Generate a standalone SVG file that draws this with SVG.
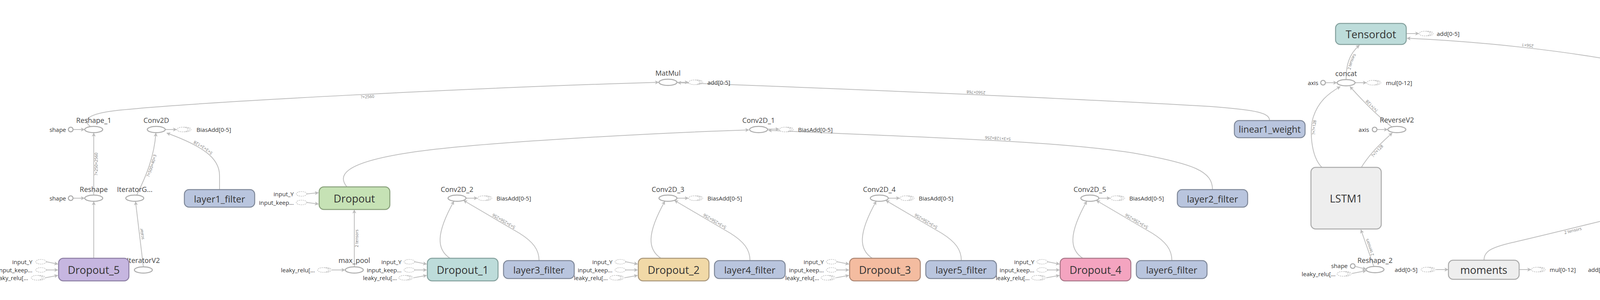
<svg xmlns="http://www.w3.org/2000/svg" width="6219" height="769" viewBox="0 0 6219 769">
<style>
text{font-family:"Open Sans","Noto Sans","Liberation Sans",sans-serif}
.op{fill:#fff;stroke:#aaa;stroke-width:2.5}
.cst{fill:#fff;stroke:#aaa;stroke-width:2.5}
.dsh{fill:#fff;stroke:#bbb;stroke-width:1.4;stroke-dasharray:3 2}
.dsa{fill:none;stroke:#bbb;stroke-width:1.4;stroke-dasharray:3 2}
.e{fill:none;stroke:#bdbdbd;stroke-width:2;marker-end:url(#ah)}
.ed{fill:none;stroke:#bdbdbd;stroke-width:2;stroke-dasharray:7 5;marker-end:url(#ah)}
.t18{font-size:18px;fill:#444;text-anchor:middle;dominant-baseline:central}
.t15{font-size:15px;fill:#333;dominant-baseline:central}
.r{text-anchor:end}
.bl{font-size:27px;fill:#333;text-anchor:middle;dominant-baseline:central}
.bs{font-size:24px}
.el{font-size:10.5px;fill:#777}
.purple{fill:#c6b6e0;stroke:#8c7ea3;stroke-width:2.5}
.green{fill:#c6e2b5;stroke:#89a17b;stroke-width:2.5}
.teal{fill:#bddcda;stroke:#84a09d;stroke-width:2.5}
.tan{fill:#f1d9a7;stroke:#a8967a;stroke-width:2.5}
.salmon{fill:#f4bca0;stroke:#ac8673;stroke-width:2.5}
.pink{fill:#f4a4c0;stroke:#a87788;stroke-width:2.5}
.var{fill:#b9c5de;stroke:#7f8899;stroke-width:2.5}
.gray{fill:#eee;stroke:#aaa;stroke-width:2.5}
</style>
<defs>
<marker id="ah" viewBox="0 0 10 10" refX="9" refY="5" markerUnits="userSpaceOnUse" markerWidth="12" markerHeight="10" orient="auto">
<path d="M0,0 L10,5 L0,10 L2.5,5 z" fill="#bbb"/>
</marker>
<g id="ser">
<path class="dsa" d="M5,-6 A14,6 0 0 1 5,6"/>
<path class="dsa" d="M1,-6 A14,6 0 0 1 1,6"/>
<ellipse class="dsh" cx="-3" cy="0" rx="14" ry="6"/>
</g>
<g id="sgl">
<ellipse class="dsh" cx="0" cy="0" rx="13.5" ry="6"/>
</g>
</defs>
<rect width="6219" height="769" fill="#fff"/>

<g id="connectors">
<path id="p1" class="e" d="M232,325 C210,308 222,292 300,283 C500,262 1200,225 1686,211"/>
<path id="p2" class="e" d="M240,500 L240,341"/>
<path class="e" d="M240,662 L240,517"/>
<path class="e" d="M188,332 L216,332"/>
<path class="e" d="M188,508 L216,508"/>
<path id="p3" class="e" d="M367,684 L347,517"/>
<path id="p4" class="e" d="M350,500 C375,450 395,400 399,341"/>
<path id="p5" class="e" d="M562,486 L562,450 C562,405 520,375 427,341"/>
<path class="e" d="M423,332 L452,332"/>
<path class="e" d="M119,671 L148,677"/>
<path class="e" d="M119,692 L148,692"/>
<path class="e" d="M116,712 L148,706"/>
<path class="e" d="M786,497 L815,494"/>
<path class="e" d="M786,519 L815,523"/>
<path id="p6" class="e" d="M907,684 L907,538"/>
<path class="e" d="M850,692 L883,692"/>
<path class="e" d="M888,479 C866,452 872,418 1050,391 C1228,364 1700,340 1917,333"/>
<path class="e" d="M1062,671 L1092,677"/><path class="e" d="M1062,692 L1092,692"/><path class="e" d="M1059,712 L1092,706"/>
<path class="e" d="M1152,662 C1118,640 1115,600 1162,516"/>
<path id="p7" class="e" d="M1380,668 C1380,640 1365,620 1330,598 L1187,514"/>
<path class="e" d="M1193,508 L1222,508"/>
<path class="e" d="M1602,671 L1632,677"/><path class="e" d="M1602,692 L1632,692"/><path class="e" d="M1599,712 L1632,706"/>
<path class="e" d="M1692,662 C1658,640 1655,600 1702,516"/>
<path id="p8" class="e" d="M1920,668 C1920,640 1905,620 1870,598 L1727,514"/>
<path class="e" d="M1733,508 L1762,508"/>
<path class="e" d="M2143,671 L2173,677"/><path class="e" d="M2143,692 L2173,692"/><path class="e" d="M2140,712 L2173,706"/>
<path class="e" d="M2233,662 C2199,640 2196,600 2243,516"/>
<path id="p9" class="e" d="M2461,668 C2461,640 2446,620 2411,598 L2268,514"/>
<path class="e" d="M2274,508 L2303,508"/>
<path class="e" d="M2682,671 L2712,677"/><path class="e" d="M2682,692 L2712,692"/><path class="e" d="M2679,712 L2712,706"/>
<path class="e" d="M2772,662 C2738,640 2735,600 2782,516"/>
<path id="p10" class="e" d="M3000,668 C3000,640 2985,620 2950,598 L2807,514"/>
<path class="e" d="M2813,508 L2842,508"/>
<path class="e" d="M1733,211 L1762,211"/>
<path id="p11" class="e" d="M3250,309 C3250,290 3220,282 3100,273 C2700,250 2100,225 1735,212"/>
<path class="e" d="M1965,331 L1994,331"/>
<path id="p12" class="e" d="M3104,486 C3104,440 3060,420 2900,392 C2700,360 2300,350 1967,334"/>
<path id="p13" class="e" d="M3446,203 C3446,170 3452,140 3480,116"/>
<path class="e" d="M3600,86 L3632,86"/>
<path id="p14" class="e" d="M4203,189 C4203,172 4185,165 4150,158 C4000,130 3800,107 3602,98"/>
<path class="e" d="M3394,212 L3422,212"/>
<path class="e" d="M3469,212 L3498,212"/>
<path class="e" d="M3526,332 L3552,332"/>
<path id="p15" class="e" d="M3563,325 C3530,300 3490,260 3456,222"/>
<path id="p16" class="e" d="M3384,429 C3355,400 3352,330 3362,300 C3375,260 3400,240 3431,222"/>
<path id="p17" class="e" d="M3485,429 C3500,405 3520,380 3564,341"/>
<path id="p18" class="e" d="M3517,683 L3484,589"/>
<path class="e" d="M3470,683 L3497,690"/>
<path class="e" d="M3461,701 L3497,694"/>
<path class="e" d="M3676,691 L3707,691"/>
<path class="e" d="M3889,691 L3919,691"/>
<path id="p19" class="e" d="M3799,667 C3799,645 3815,635 3870,622 C4000,592 4150,553 4269,527"/>
<path class="e" d="M4296,321 L4325,330"/>
<path class="e" d="M4296,340 L4325,334"/>
<path id="p20" class="e" d="M4361,484 L4361,341"/>
<path class="e" d="M4397,332 L4432,332"/>
<path class="e" d="M4237,509 L4269,509"/>
<path class="e" d="M4452,498 L4479,498"/>
<path class="e" d="M4452,518 L4479,518"/>
<path class="e" d="M4171,691 L4202,691"/>
<path class="e" d="M4381,691 L4411,691"/>
<path id="p21" class="ed" d="M4216,683 C4190,668 4176,650 4185,628 C4198,598 4260,562 4314,534"/>
<path id="p22" class="ed" d="M4432,683 L4371,535"/>
<path id="p23" class="e" d="M4563,668 C4563,640 4540,620 4480,590 L4409,534"/>
<path id="p24" class="e" d="M4759,668 C4759,640 4740,620 4680,605 L4447,534"/>
<path class="e" d="M4981,691 L5011,691"/>
<path id="p25" class="e" d="M5025,683 C4990,660 4975,630 4990,605 C5005,580 5030,560 5059,536"/>
<path id="p26" class="e" d="M5163,668 C5163,630 5140,580 5110,536"/>
<path id="p27" class="e" d="M5090,482 L5083,341"/>
<path id="p28" class="e" d="M5083,324 L5091,221"/>
<path class="e" d="M5040,212 L5068,212"/>
<path class="e" d="M5115,212 L5144,212"/>
<path id="p29" class="e" d="M5430,683 C5395,660 5375,630 5385,600 C5395,570 5405,545 5415,518"/>
<path class="e" d="M5390,683 L5418,690"/>
<path class="e" d="M5381,701 L5418,694"/>
<path id="p30" class="e" d="M5568,668 C5568,640 5550,615 5510,590 L5437,518"/>
<path class="e" d="M5444,509 L5473,509"/>
<path class="e" d="M5884,666 C5860,650 5850,625 5865,600 C5880,570 5900,545 5919,518"/>
<path id="p31" class="e" d="M6108,668 C6108,640 6090,620 6050,598 L5944,518"/>
<path class="e" d="M5950,509 L5980,509"/>
<path class="e" d="M5792,681 L5822,681"/>
<path class="e" d="M5788,702 L5822,702"/>
</g>

<g id="edge-labels">
<text class="el" dy="10"><textPath href="#p1" startOffset="50%" text-anchor="middle">?×2560</textPath></text>
<text class="el" dy="10"><textPath href="#p2" startOffset="50%" text-anchor="middle">?×250×2560</textPath></text>
<text class="el" dy="10"><textPath href="#p3" startOffset="50%" text-anchor="middle">scalar</textPath></text>
<text class="el" dy="10"><textPath href="#p4" startOffset="50%" text-anchor="middle">?×500×40×3</textPath></text>
<text class="el" dy="10"><textPath href="#p5" startOffset="55%" text-anchor="middle">5×3×3×128</textPath></text>
<text class="el" dy="10"><textPath href="#p6" startOffset="50%" text-anchor="middle">2 tensors</textPath></text>
<text class="el" dy="10"><textPath href="#p7" startOffset="55%" text-anchor="middle">5×3×256×256</textPath></text>
<text class="el" dy="10"><textPath href="#p8" startOffset="55%" text-anchor="middle">5×3×256×256</textPath></text>
<text class="el" dy="10"><textPath href="#p9" startOffset="55%" text-anchor="middle">5×3×256×256</textPath></text>
<text class="el" dy="10"><textPath href="#p10" startOffset="55%" text-anchor="middle">5×3×256×256</textPath></text>
<text class="el" dy="10"><textPath href="#p11" startOffset="50%" text-anchor="middle">2560×768</textPath></text>
<text class="el" dy="10"><textPath href="#p12" startOffset="50%" text-anchor="middle">5×3×128×256</textPath></text>
<text class="el" dy="10"><textPath href="#p13" startOffset="50%" text-anchor="middle">2 tensors</textPath></text>
<text class="el" dy="10"><textPath href="#p14" startOffset="50%" text-anchor="middle">256×1</textPath></text>
<text class="el" dy="10"><textPath href="#p15" startOffset="50%" text-anchor="middle">?×?×128</textPath></text>
<text class="el" dy="10"><textPath href="#p16" startOffset="45%" text-anchor="middle">?×?×128</textPath></text>
<text class="el" dy="10"><textPath href="#p17" startOffset="50%" text-anchor="middle">?×?×128</textPath></text>
<text class="el" dy="10"><textPath href="#p18" startOffset="50%" text-anchor="middle">2 tensors</textPath></text>
<text class="el" dy="10"><textPath href="#p19" startOffset="50%" text-anchor="middle">2 tensors</textPath></text>
<text class="el" dy="10"><textPath href="#p20" startOffset="50%" text-anchor="middle">?×768</textPath></text>
<text class="el" dy="10"><textPath href="#p21" startOffset="50%" text-anchor="middle">768</textPath></text>
<text class="el" dy="10"><textPath href="#p22" startOffset="50%" text-anchor="middle">768</textPath></text>
<text class="el" dy="10"><textPath href="#p23" startOffset="50%" text-anchor="middle">768</textPath></text>
<text class="el" dy="10"><textPath href="#p24" startOffset="50%" text-anchor="middle">768</textPath></text>
<text class="el" dy="10"><textPath href="#p25" startOffset="50%" text-anchor="middle">2 tensors</textPath></text>
<text class="el" dy="10"><textPath href="#p26" startOffset="50%" text-anchor="middle">1</textPath></text>
<text class="el" dy="10"><textPath href="#p27" startOffset="50%" text-anchor="middle">?×?</textPath></text>
<text class="el" dy="10"><textPath href="#p28" startOffset="50%" text-anchor="middle">?×?</textPath></text>
<text class="el" dy="10"><textPath href="#p29" startOffset="50%" text-anchor="middle">?×256</textPath></text>
<text class="el" dy="10"><textPath href="#p30" startOffset="50%" text-anchor="middle">256×64</textPath></text>
<text class="el" dy="10"><textPath href="#p31" startOffset="50%" text-anchor="middle">64×2</textPath></text>
</g>

<g id="node-Reshape_1">
<ellipse class="op" cx="240" cy="332" rx="23" ry="8"/>
<text class="t18" x="240" y="308">Reshape_1</text>
<circle class="cst" cx="181" cy="332" r="6"/>
<text class="t15 r" x="169" y="332">shape</text>
</g>
<g id="node-Conv2D">
<ellipse class="op" cx="400" cy="332" rx="23" ry="8"/>
<text class="t18" x="400" y="308">Conv2D</text>
<use href="#ser" x="470" y="332"/>
<text class="t15" x="503" y="332">BiasAdd[0-5]</text>
</g>
<g id="node-Reshape">
<ellipse class="op" cx="240" cy="508" rx="23" ry="8"/>
<text class="t18" x="240" y="485">Reshape</text>
<circle class="cst" cx="181" cy="508" r="6"/>
<text class="t15 r" x="169" y="508">shape</text>
</g>
<g id="node-IteratorG">
<ellipse class="op" cx="345" cy="508" rx="23" ry="8"/>
<text class="t18" x="345" y="485">IteratorG...</text>
</g>
<g id="node-IteratorV2">
<ellipse class="op" cx="367" cy="692" rx="23" ry="8"/>
<text class="t18" x="367" y="667">IteratorV2</text>
</g>
<g id="node-Dropout_5">
<rect class="purple" x="150" y="662" width="180" height="58" rx="12"/>
<text class="bl" x="240" y="691">Dropout_5</text>
<use href="#sgl" x="105" y="671"/>
<text class="t15 r" x="83" y="671">input_Y</text>
<use href="#sgl" x="105" y="692"/>
<text class="t15 r" x="83" y="692">input_keep...</text>
<use href="#ser" x="97" y="712"/>
<text class="t15 r" x="72" y="712">leaky_relu[...</text>
</g>
<g id="node-layer1_filter">
<rect class="var" x="472" y="486" width="180" height="45" rx="12"/>
<text class="bl bs" x="562" y="509">layer1_filter</text>
</g>
<g id="node-Dropout">
<rect class="green" x="817" y="479" width="181" height="58" rx="12"/>
<text class="bl" x="907" y="508">Dropout</text>
<use href="#sgl" x="772" y="497"/>
<text class="t15 r" x="752" y="497">input_Y</text>
<use href="#sgl" x="772" y="519"/>
<text class="t15 r" x="752" y="519">input_keep...</text>
</g>
<g id="node-max_pool">
<ellipse class="op" cx="907" cy="692" rx="23" ry="8"/>
<text class="t18" x="907" y="667">max_pool</text>
<use href="#ser" x="830" y="692"/>
<text class="t15 r" x="806" y="692">leaky_relu[...</text>
</g>

<g id="node-Dropout_1">
<rect class="teal" x="1094" y="662" width="181" height="58" rx="12"/>
<text class="bl" x="1184.5" y="691">Dropout_1</text>
<use href="#sgl" x="1048" y="671"/><text class="t15 r" x="1028" y="671">input_Y</text>
<use href="#sgl" x="1048" y="692"/><text class="t15 r" x="1028" y="692">input_keep...</text>
<use href="#ser" x="1038" y="712"/><text class="t15 r" x="1016" y="712">leaky_relu[...</text>
</g>
<g id="node-Conv2D_2">
<ellipse class="op" cx="1170" cy="508" rx="23" ry="8"/>
<text class="t18" x="1170" y="485">Conv2D_2</text>
<use href="#ser" x="1240" y="508"/><text class="t15" x="1271" y="508">BiasAdd[0-5]</text>
</g>
<g id="node-layer3_filter">
<rect class="var" x="1289" y="668" width="181" height="46" rx="12"/>
<text class="bl bs" x="1379.5" y="691">layer3_filter</text>
</g>

<g id="node-Dropout_2">
<rect class="tan" x="1634" y="662" width="181" height="58" rx="12"/>
<text class="bl" x="1724.5" y="691">Dropout_2</text>
<use href="#sgl" x="1588" y="671"/><text class="t15 r" x="1568" y="671">input_Y</text>
<use href="#sgl" x="1588" y="692"/><text class="t15 r" x="1568" y="692">input_keep...</text>
<use href="#ser" x="1578" y="712"/><text class="t15 r" x="1556" y="712">leaky_relu[...</text>
</g>
<g id="node-Conv2D_3">
<ellipse class="op" cx="1710" cy="508" rx="23" ry="8"/>
<text class="t18" x="1710" y="485">Conv2D_3</text>
<use href="#ser" x="1780" y="508"/><text class="t15" x="1811" y="508">BiasAdd[0-5]</text>
</g>
<g id="node-layer4_filter">
<rect class="var" x="1829" y="668" width="181" height="46" rx="12"/>
<text class="bl bs" x="1919.5" y="691">layer4_filter</text>
</g>

<g id="node-Dropout_3">
<rect class="salmon" x="2175" y="662" width="181" height="58" rx="12"/>
<text class="bl" x="2265.5" y="691">Dropout_3</text>
<use href="#sgl" x="2129" y="671"/><text class="t15 r" x="2109" y="671">input_Y</text>
<use href="#sgl" x="2129" y="692"/><text class="t15 r" x="2109" y="692">input_keep...</text>
<use href="#ser" x="2119" y="712"/><text class="t15 r" x="2097" y="712">leaky_relu[...</text>
</g>
<g id="node-Conv2D_4">
<ellipse class="op" cx="2251" cy="508" rx="23" ry="8"/>
<text class="t18" x="2251" y="485">Conv2D_4</text>
<use href="#ser" x="2321" y="508"/><text class="t15" x="2352" y="508">BiasAdd[0-5]</text>
</g>
<g id="node-layer5_filter">
<rect class="var" x="2370" y="668" width="181" height="46" rx="12"/>
<text class="bl bs" x="2460.5" y="691">layer5_filter</text>
</g>

<g id="node-Dropout_4">
<rect class="pink" x="2714" y="662" width="181" height="58" rx="12"/>
<text class="bl" x="2804.5" y="691">Dropout_4</text>
<use href="#sgl" x="2668" y="671"/><text class="t15 r" x="2648" y="671">input_Y</text>
<use href="#sgl" x="2668" y="692"/><text class="t15 r" x="2648" y="692">input_keep...</text>
<use href="#ser" x="2658" y="712"/><text class="t15 r" x="2636" y="712">leaky_relu[...</text>
</g>
<g id="node-Conv2D_5">
<ellipse class="op" cx="2790" cy="508" rx="23" ry="8"/>
<text class="t18" x="2790" y="485">Conv2D_5</text>
<use href="#ser" x="2860" y="508"/><text class="t15" x="2891" y="508">BiasAdd[0-5]</text>
</g>
<g id="node-layer6_filter">
<rect class="var" x="2909" y="668" width="181" height="46" rx="12"/>
<text class="bl bs" x="2999.5" y="691">layer6_filter</text>
</g>

<g id="node-MatMul">
<ellipse class="op" cx="1710" cy="211" rx="23" ry="8"/>
<text class="t18" x="1710" y="187">MatMul</text>
<use href="#ser" x="1780" y="211"/><text class="t15" x="1811" y="211">add[0-5]</text>
</g>
<g id="node-Conv2D_1">
<ellipse class="op" cx="1942" cy="332" rx="23" ry="8"/>
<text class="t18" x="1942" y="308">Conv2D_1</text>
<use href="#ser" x="2012" y="332"/><text class="t15" x="2043" y="332">BiasAdd[0-5]</text>
</g>
<g id="node-layer2_filter">
<rect class="var" x="3014" y="486" width="180" height="45" rx="12"/>
<text class="bl bs" x="3104" y="509">layer2_filter</text>
</g>
<g id="node-linear1_weight">
<rect class="var" x="3160" y="309" width="181" height="44" rx="12"/>
<text class="bl" style="font-size:23.5px" x="3250.5" y="331">linear1_weight</text>
</g>

<g id="node-Tensordot">
<rect class="teal" x="3419" y="60" width="181" height="54" rx="12"/>
<text class="bl" x="3509.5" y="87">Tensordot</text>
<use href="#ser" x="3650" y="86"/><text class="t15" x="3678" y="86">add[0-5]</text>
</g>
<g id="node-concat">
<ellipse class="op" cx="3446" cy="212" rx="23" ry="8"/>
<text class="t18" x="3446" y="188">concat</text>
<circle class="cst" cx="3387" cy="212" r="6"/>
<text class="t15 r" x="3375" y="212">axis</text>
<use href="#ser" x="3516" y="212"/><text class="t15" x="3548" y="212">mul[0-12]</text>
</g>
<g id="node-ReverseV2">
<ellipse class="op" cx="3576" cy="332" rx="23" ry="8"/>
<text class="t18" x="3576" y="307">ReverseV2</text>
<circle class="cst" cx="3519" cy="332" r="6"/>
<text class="t15 r" x="3505" y="332">axis</text>
</g>
<g id="node-LSTM1">
<rect class="gray" x="3356" y="429" width="180" height="158" rx="12"/>
<text class="bl" x="3446" y="508">LSTM1</text>
</g>
<g id="node-Reshape_2">
<ellipse class="op" cx="3520" cy="691" rx="23" ry="8"/>
<text class="t18" x="3520" y="667">Reshape_2</text>
<circle class="cst" cx="3463" cy="682" r="6"/>
<text class="t15 r" x="3450" y="681">shape</text>
<use href="#ser" x="3440" y="702"/><text class="t15 r" x="3419" y="702">leaky_relu[...</text>
</g>

<g id="node-moments">
<rect class="gray" x="3708" y="667" width="181" height="49" rx="12"/>
<text class="bl" x="3798.5" y="691">moments</text>
<use href="#ser" x="3655" y="691"/><text class="t15 r" x="3629" y="691">add[0-5]</text>
<use href="#ser" x="3937" y="691"/><text class="t15" x="3967" y="691">mul[0-12]</text>
</g>
<g id="node-Variable_4">
<rect class="var" x="4113" y="189" width="181" height="44" rx="12"/>
<text class="bl" x="4203.5" y="211">Variable_4</text>
</g>
<g id="node-Less">
<ellipse class="op" cx="4374" cy="332" rx="22" ry="8"/>
<ellipse class="op" cx="4361" cy="332" rx="22" ry="8"/>
<ellipse class="op" cx="4348" cy="332" rx="22" ry="8"/>
<text class="t18" style="font-size:24px" x="4361" y="302">Less[0-7]</text>
<use href="#ser" x="4275" y="320"/><text class="t15 r" x="4246" y="320">BiasAdd[0-5]</text>
<use href="#ser" x="4275" y="341"/><text class="t15 r" x="4246" y="341">add[0-5]</text>
<use href="#ser" x="4450" y="332"/><text class="t15" x="4476" y="332">leaky_relu[...</text>
</g>
<g id="node-batchnorm">
<rect class="gray" x="4271" y="484" width="180" height="48" rx="12"/>
<text class="bl" x="4361" y="508">batchnorm</text>
<use href="#ser" x="4218" y="509"/><text class="t15 r" x="4192" y="509">add[0-5]</text>
<use href="#ser" x="4497" y="498"/><text class="t15" x="4530" y="498">mul[0-12]</text>
<use href="#ser" x="4497" y="518"/><text class="t15" x="4530" y="518">leaky_relu[...</text>
</g>
<g id="node-Assign">
<ellipse class="op" cx="4226" cy="691" rx="23" ry="8"/>
<text class="t18" x="4226" y="667">Assign</text>
<use href="#ser" x="4152" y="691"/><text class="t15 r" x="4124" y="691">add[0-5]</text>
</g>
<g id="node-Assign_1">
<ellipse class="op" cx="4435" cy="691" rx="23" ry="8"/>
<text class="t18" x="4435" y="667">Assign_1</text>
<use href="#ser" x="4362" y="691"/><text class="t15 r" x="4334" y="691">add[0-5]</text>
</g>
<g id="node-Variable">
<rect class="var" x="4473" y="668" width="180" height="46" rx="12"/>
<text class="bl" x="4563" y="691">Variable</text>
</g>
<g id="node-Variable_1">
<rect class="var" x="4668" y="668" width="180" height="46" rx="12"/>
<text class="bl" x="4758" y="691">Variable_1</text>
</g>

<g id="node-Sigmoid">
<ellipse class="op" cx="5035" cy="691" rx="23" ry="8"/>
<text class="t18" x="5035" y="667">Sigmoid</text>
<use href="#ser" x="4962" y="691"/><text class="t15 r" x="4934" y="691">add[0-5]</text>
</g>
<g id="node-Variable_6">
<rect class="var" x="5073" y="668" width="181" height="46" rx="12"/>
<text class="bl" x="5163.5" y="691">Variable_6</text>
</g>
<g id="node-Tensordot_1">
<rect class="teal" x="5001" y="482" width="181" height="53" rx="12"/>
<text class="bl" x="5091.5" y="508">Tensordot_1</text>
</g>
<g id="node-Softmax">
<ellipse class="op" cx="5082" cy="332" rx="23" ry="8"/>
<text class="t18" x="5082" y="307">Softmax</text>
</g>
<g id="node-ExpandDims">
<ellipse class="op" cx="5092" cy="212" rx="23" ry="8"/>
<text class="t18" x="5092" y="188">ExpandDi...</text>
<circle class="cst" cx="5033" cy="212" r="6"/>
<text class="t15 r" x="5020" y="212">dim</text>
<use href="#ser" x="5162" y="212"/><text class="t15" x="5193" y="212">mul[0-12]</text>
</g>

<g id="node-MatMul_1">
<ellipse class="op" cx="5421" cy="509" rx="23" ry="8"/>
<text class="t18" x="5421" y="484">MatMul_1</text>
<use href="#ser" x="5491" y="509"/><text class="t15" x="5523" y="509">add[0-5]</text>
</g>
<g id="node-Sum">
<ellipse class="op" cx="5441" cy="691" rx="23" ry="8"/>
<text class="t18" x="5441" y="667">Sum</text>
<circle class="cst" cx="5383" cy="682" r="6"/>
<text class="t15 r" x="5369" y="681">reduction_i...</text>
<use href="#ser" x="5360" y="702"/><text class="t15 r" x="5339" y="702">mul[0-12]</text>
</g>
<g id="node-fully1_weight">
<rect class="var" x="5478" y="668" width="180" height="46" rx="12"/>
<text class="bl" style="font-size:24.5px" x="5568" y="691">fully1_weight</text>
</g>
<g id="node-dropout_6">
<rect class="gray" x="5823" y="666" width="180" height="50" rx="12"/>
<text class="bl" x="5913" y="691">dropout_6</text>
<use href="#sgl" x="5778" y="681"/><text class="t15 r" x="5757" y="681">input_keep...</text>
<use href="#ser" x="5767" y="702"/><text class="t15 r" x="5745" y="702">leaky_relu[...</text>
</g>
<g id="node-MatMul_2">
<ellipse class="op" cx="5927" cy="509" rx="23" ry="8"/>
<text class="t18" x="5927" y="484">MatMul_2</text>
<use href="#ser" x="5998" y="509"/><text class="t15" x="6029" y="509">add[0-5]</text>
</g>
<g id="node-fully2_weight">
<rect class="var" x="6018" y="668" width="180" height="46" rx="12"/>
<text class="bl" style="font-size:24.5px" x="6108" y="691">fully2_weight</text>
</g>
</svg>
